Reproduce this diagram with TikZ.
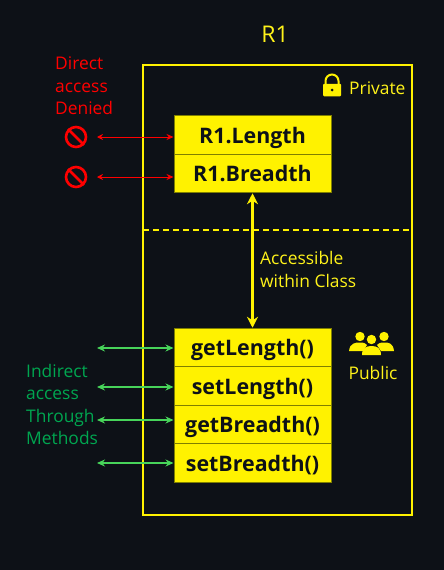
\documentclass[tikz,border=0pt]{standalone}
\usepackage{fontspec}
\setmainfont{Open Sans}
\usetikzlibrary{arrows.meta}
\definecolor{bgdark}{HTML}{0D1117}
\definecolor{boxline}{HTML}{7F7F00}
\definecolor{arrowgreen}{HTML}{47D45A}
\definecolor{textgreen}{HTML}{00A650}
\tikzset{
	member/.style={draw=boxline,line width=1pt,fill=yellow,text=bgdark,minimum width=157pt,minimum height=38.5pt,inner sep=0pt,text height=19pt,text depth=3pt,font=\fontsize{21.4}{24}\selectfont\bfseries},
	caption/.style={inner sep=0pt,align=left,font=\fontsize{17.4}{22.4}\selectfont},
	denied/.style={red,{Stealth[length=6pt,width=6pt]}-{Stealth[length=7pt,width=6pt]},line width=.9pt},
	through/.style={arrowgreen,{Stealth[length=8pt,width=7pt]}-{Stealth[length=8pt,width=7pt]},line width=1.5pt},
	nosign/.style={circle,draw=red,line width=2.6pt,minimum size=20pt,inner sep=0pt}
}
\begin{document}
\begin{tikzpicture}[x=1pt,y=-1pt]
	\useasboundingbox[fill=bgdark] (0,0) rectangle (444,570);
	
	\node[caption,text=yellow!90!white] (Title) at (275,34) {\fontsize{23}{26}\selectfont R1};
	\node[draw=yellow,line width=2pt,minimum width=269pt,minimum height=450pt,inner sep=0pt] (Frame) at (277.5,290) {};
	\coordinate (DL) at (143,230);
	\coordinate (DR) at (412,230);
	\draw[yellow,line width=1.6pt,dash pattern=on 6pt off 4pt] (DL)--(DR);
	
	\node[member] (RL) at (252.5,135) {R1.Length};
	\node[member] (RB) at (252.5,173.5) {R1.Breadth};
	\node[member] (GL) at (252.5,347.5) {getLength()};
	\node[member] (SL) at (252.5,386) {setLength()};
	\node[member] (GB) at (252.5,424.5) {getBreadth()};
	\node[member] (SB) at (252.5,463) {setBreadth()};
	
	\draw[yellow,line width=3pt,{Stealth[length=11pt,width=11pt]}-{Stealth[length=11pt,width=11pt]}] (RB.south)--(GL.north);
	\node[caption,text=yellow!90!white,anchor=west] (Within) at (260,269.5) {Accessible\\within Class};
	
	% private side
	\node[caption,text=red,anchor=north west] (Direct) at (55,57) {Direct\\access\\Denied};
	\node[nosign] (NA) at (76,137) {};
	\node[nosign] (NB) at (76,177) {};
	\draw[red,line width=2.6pt] (NA.north west)--(NA.south east);
	\draw[red,line width=2.6pt] (NB.north west)--(NB.south east);
	\coordinate (RA) at (97,137);
	\coordinate (RC) at (97,177);
	\draw[denied] (RA)--(RL.west |- RA);
	\draw[denied] (RC)--(RB.west |- RC);
	
	% lock
	\node[fill=yellow,minimum width=18pt,minimum height=12.5pt,inner sep=0pt,rounded corners=1pt] (Lock) at (332,90) {};
	\node[fill=bgdark,circle,minimum size=3pt,inner sep=0pt] (Hole) at (332,90) {};
	\draw[yellow,line width=2pt] (325.5,84) -- (325.5,81) arc[start angle=180,end angle=360,radius=6.5] -- (338.5,84);
	\node[caption,text=yellow!90!white,anchor=west] (Private) at (349,88) {Private};
	
	% public side
	\fill[yellow] (360,336.5) circle[radius=4.7];
	\fill[yellow] (384,336.5) circle[radius=4.7];
	\fill[yellow] (349,351) .. controls (350,343) and (355,342.5) .. (360,342.5) .. controls (364,342.5) and (366,343.5) .. (367,345) -- (363,351) -- cycle;
	\fill[yellow] (394,351) .. controls (393,343) and (389,342.5) .. (384,342.5) .. controls (380,342.5) and (378,343.5) .. (377,345) -- (381,351) -- cycle;
	\fill[yellow] (371.5,339.5) circle[radius=4.7];
	\fill[yellow] (362,355) .. controls (362,348) and (366,346) .. (371.5,346) .. controls (377,346) and (381,348) .. (381,355) -- cycle;
	\node[caption,text=yellow!90!white] (Public) at (373,373) {Public};
	\node[caption,text=textgreen,anchor=north west] (Indirect) at (26,364) {Indirect\\access\\Through\\Methods};
	\coordinate (GA) at (97,348);
	\coordinate (GC) at (97,387);
	\coordinate (GD) at (97,420);
	\coordinate (GE) at (97,463);
	\draw[through] (GA)--(GL.west |- GA);
	\draw[through] (GC)--(SL.west |- GC);
	\draw[through] (GD)--(GB.west |- GD);
	\draw[through] (GE)--(SB.west |- GE);
\end{tikzpicture}
\end{document}
